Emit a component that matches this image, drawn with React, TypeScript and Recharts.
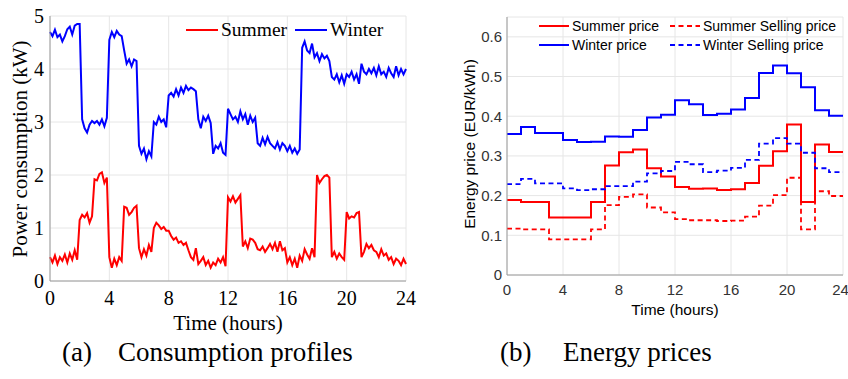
import React from 'react';
import { LineChart, Line, XAxis, YAxis, CartesianGrid, Legend } from 'recharts';

const SERIF = '"Liberation Serif", "Times New Roman", serif';
const SANS = '"Liberation Sans", Arial, sans-serif';

const RED = '#ff0000';
const BLUE = '#0000ff';
const GRID = '#e6e6e6';
const FRAME = '#9a9a9a';

// (a) consumption profiles, 10-minute samples from 0 h to 24 h (kW)
const SAMPLES_PER_HOUR = 6;
const summerLoad = [
  0.45, 0.35, 0.48, 0.32, 0.45, 0.38,
  0.50, 0.35, 0.52, 0.40, 0.58, 0.40,
  1.15, 1.25, 1.20, 1.28, 1.10, 1.22,
  1.92, 1.90, 2.02, 2.05, 1.85, 1.95,
  0.45, 0.25, 0.42, 0.30, 0.45, 0.38,
  1.40, 1.38, 1.25, 1.30, 1.38, 1.42,
  0.62, 0.45, 0.60, 0.48, 0.68, 0.55,
  1.00, 1.10, 1.05, 0.98, 1.02, 0.95,
  0.95, 0.85, 0.78, 0.82, 0.72, 0.75,
  0.68, 0.72, 0.58, 0.45, 0.40, 0.62,
  0.32, 0.38, 0.45, 0.30, 0.38, 0.25,
  0.35, 0.30, 0.42, 0.35, 0.45, 0.28,
  1.58, 1.50, 1.60, 1.48, 1.55, 1.62,
  0.65, 0.75, 0.62, 0.80, 0.78, 0.72,
  0.60, 0.58, 0.65, 0.55, 0.62, 0.70,
  0.60, 0.72, 0.55, 0.75, 0.58, 0.62,
  0.35, 0.45, 0.30, 0.42, 0.25, 0.48,
  0.38, 0.60, 0.50, 0.42, 0.62, 0.45,
  2.00, 1.85, 1.92, 1.98, 2.00, 1.95,
  0.45, 0.55, 0.42, 0.52, 0.45, 0.40,
  1.30, 1.18, 1.22, 1.20, 1.28, 1.30,
  0.45, 0.55, 0.70, 0.62, 0.68, 0.58,
  0.55, 0.45, 0.60, 0.48, 0.52, 0.40,
  0.45, 0.32, 0.42, 0.38, 0.30, 0.42,
  0.32,
];
const winterLoad = [
  4.70, 4.62, 4.74, 4.60, 4.65, 4.52,
  4.62, 4.75, 4.80, 4.65, 4.82, 4.85,
  4.85, 3.05, 2.88, 2.80, 2.95, 3.02,
  2.98, 3.02, 2.95, 3.05, 2.92, 3.08,
  4.55, 4.70, 4.60, 4.72, 4.65, 4.62,
  4.35, 4.10, 4.18, 4.05, 4.18, 4.15,
  2.55, 2.40, 2.50, 2.30, 2.45, 2.35,
  3.00, 2.95, 3.10, 3.00, 3.05, 2.90,
  3.50, 3.55, 3.48, 3.62, 3.50, 3.65,
  3.55, 3.68, 3.60, 3.65, 3.62, 3.58,
  3.05, 2.88, 3.10, 3.02, 3.12, 2.98,
  2.40, 2.55, 2.50, 2.60, 2.42, 2.38,
  3.25, 3.15, 3.05, 3.10, 3.00, 3.20,
  3.05, 3.15, 2.95, 3.12, 3.00, 3.08,
  2.60, 2.55, 2.70, 2.58, 2.72, 2.60,
  2.55, 2.50, 2.62, 2.48, 2.60, 2.55,
  2.45, 2.55, 2.42, 2.50, 2.40, 2.48,
  4.40, 4.52, 4.35, 4.30, 4.48, 4.22,
  4.30, 4.15, 4.28, 4.20, 4.25, 4.15,
  3.85, 3.80, 3.90, 3.75, 3.88, 3.72,
  3.90, 3.85, 3.95, 3.80, 3.90, 3.72,
  4.10, 3.95, 3.90, 4.00, 3.92, 4.02,
  3.88, 4.05, 3.90, 3.95, 3.85, 4.02,
  3.92, 3.85, 4.05, 3.88, 4.00, 3.90,
  4.00,
];
const timeTicks = [0, 4, 8, 12, 16, 20, 24];
const powerTicks = [0, 1, 2, 3, 4, 5];

// (b) hourly prices (EUR/kWh); the 24 h point repeats the last hour to close the step
const priceHours = [0, 1, 2, 3, 4, 5, 6, 7, 8, 9, 10, 11, 12, 13, 14, 15, 16, 17, 18, 19, 20, 21, 22, 23, 24];
const summerPrice = [0.189, 0.184, 0.184, 0.145, 0.145, 0.145, 0.184, 0.276, 0.309, 0.316, 0.269, 0.248, 0.222, 0.217, 0.218, 0.214, 0.216, 0.232, 0.275, 0.312, 0.379, 0.184, 0.329, 0.310];
const summerSelling = [0.117, 0.115, 0.115, 0.090, 0.090, 0.090, 0.115, 0.176, 0.197, 0.203, 0.170, 0.158, 0.141, 0.138, 0.138, 0.136, 0.137, 0.147, 0.175, 0.201, 0.245, 0.115, 0.211, 0.199];
const winterPrice = [0.355, 0.373, 0.358, 0.358, 0.340, 0.335, 0.336, 0.349, 0.348, 0.365, 0.397, 0.404, 0.440, 0.430, 0.403, 0.406, 0.417, 0.446, 0.509, 0.528, 0.508, 0.473, 0.415, 0.401];
const winterSelling = [0.229, 0.242, 0.231, 0.231, 0.218, 0.214, 0.216, 0.224, 0.224, 0.235, 0.256, 0.262, 0.285, 0.279, 0.259, 0.263, 0.270, 0.290, 0.331, 0.345, 0.331, 0.308, 0.269, 0.259];
const priceTicks = [0, 0.1, 0.2, 0.3, 0.4, 0.5, 0.6];

const consumptionData = summerLoad.map((v, i) => ({
  t: i / SAMPLES_PER_HOUR,
  summer: v,
  winter: winterLoad[i],
}));

const priceData = priceHours.map((h, i) => {
  const k = Math.min(i, summerPrice.length - 1);
  return {
    h,
    summerPrice: summerPrice[k],
    summerSelling: summerSelling[k],
    winterPrice: winterPrice[k],
    winterSelling: winterSelling[k],
  };
});

const axisTitle = (text: string, x: number, y: number, font: string, size: number, rotate = false) => ({
  content: () => (
    <text
      x={x}
      y={y}
      textAnchor="middle"
      dominantBaseline="central"
      transform={rotate ? `rotate(-90 ${x} ${y})` : undefined}
      style={{ fontFamily: font, fontSize: size, fill: '#000' }}
    >
      {text}
    </text>
  ),
});

const LegendItem = ({ x, y, color, dash, label, lineLen, font, size }: any) => (
  <div
    style={{
      position: 'absolute',
      left: x,
      top: y - 12,
      height: 24,
      display: 'flex',
      alignItems: 'center',
      whiteSpace: 'nowrap',
    }}
  >
    <svg width={lineLen} height={6} style={{ marginRight: 3 }}>
      <line x1={0} y1={3} x2={lineLen} y2={3} stroke={color} strokeWidth={2} strokeDasharray={dash} />
    </svg>
    <span style={{ fontFamily: font, fontSize: size, lineHeight: '24px', color: '#000' }}>{label}</span>
  </div>
);

const ConsumptionLegend = () => (
  <div style={{ position: 'relative', width: 420, height: 50 }}>
    <LegendItem x={186} y={30} color={RED} label="Summer" lineLen={32} font={SERIF} size={19.5} />
    <LegendItem x={295} y={30} color={BLUE} label="Winter" lineLen={32} font={SERIF} size={19.5} />
  </div>
);

const PriceLegend = () => (
  <div style={{ position: 'relative', width: 408, height: 60 }}>
    <LegendItem x={99} y={25.5} color={RED} label="Summer price" lineLen={30} font={SANS} size={14} />
    <LegendItem x={230} y={25.5} color={RED} dash="5 3.5" label="Summer Selling price" lineLen={30} font={SANS} size={14} />
    <LegendItem x={99} y={44.5} color={BLUE} label="Winter price" lineLen={30} font={SANS} size={14} />
    <LegendItem x={230} y={44.5} color={BLUE} dash="5 3.5" label="Winter Selling price" lineLen={30} font={SANS} size={14} />
  </div>
);

const ConsumptionChart = () => (
  <LineChart width={420} height={340} data={consumptionData} margin={{ top: 16, right: 14, bottom: 0, left: 0 }}>
    <CartesianGrid stroke={GRID} />
    <XAxis
      type="number"
      dataKey="t"
      domain={[0, 24]}
      ticks={timeTicks}
      height={59}
      tickSize={0}
      tickMargin={10}
      axisLine={{ stroke: FRAME }}
      tick={{ fontFamily: SERIF, fontSize: 20, fill: '#000' }}
      label={axisTitle('Time (hours)', 228, 323, SERIF, 21)}
    />
    <XAxis xAxisId="top" orientation="top" type="number" dataKey="t" domain={[0, 24]} ticks={timeTicks} height={0} tick={false} tickLine={false} axisLine={{ stroke: FRAME }} />
    <YAxis
      type="number"
      domain={[0, 5]}
      ticks={powerTicks}
      width={50}
      tickSize={0}
      tickMargin={6}
      axisLine={{ stroke: FRAME }}
      tick={{ fontFamily: SERIF, fontSize: 20, fill: '#000' }}
      label={axisTitle('Power consumption (kW)', 20, 149, SERIF, 21, true)}
    />
    <YAxis yAxisId="right" orientation="right" type="number" domain={[0, 5]} ticks={powerTicks} width={0} tick={false} tickLine={false} axisLine={{ stroke: FRAME }} />
    <Legend
      layout="horizontal"
      verticalAlign="middle"
      align="center"
      content={() => <ConsumptionLegend />}
      wrapperStyle={{ left: 0, top: 0, width: 420, height: 50 }}
    />
    <Line type="linear" dataKey="summer" name="Summer" stroke={RED} strokeWidth={2} dot={false} activeDot={false} isAnimationActive={false} />
    <Line type="linear" dataKey="winter" name="Winter" stroke={BLUE} strokeWidth={2} dot={false} activeDot={false} isAnimationActive={false} />
  </LineChart>
);

const PriceChart = () => (
  <LineChart width={408} height={340} data={priceData} margin={{ top: 17, right: 5, bottom: 0, left: 0 }}>
    <CartesianGrid stroke={GRID} />
    <XAxis
      type="number"
      dataKey="h"
      domain={[0, 24]}
      ticks={timeTicks}
      height={65}
      tickSize={0}
      tickMargin={9}
      axisLine={{ stroke: FRAME }}
      tick={{ fontFamily: SANS, fontSize: 15, fill: '#333' }}
      label={axisTitle('Time (hours)', 235, 309.5, SANS, 15.5)}
    />
    <XAxis xAxisId="top" orientation="top" type="number" dataKey="h" domain={[0, 24]} ticks={timeTicks} height={0} tick={false} tickLine={false} axisLine={{ stroke: FRAME }} />
    <YAxis
      type="number"
      domain={[0, 0.65]}
      ticks={priceTicks}
      width={67}
      tickSize={0}
      tickMargin={5}
      axisLine={{ stroke: FRAME }}
      tick={{ fontFamily: SANS, fontSize: 15, fill: '#333' }}
      label={axisTitle('Energy price (EUR/kWh)', 29, 144, SANS, 15.5, true)}
    />
    <YAxis yAxisId="right" orientation="right" type="number" domain={[0, 0.65]} ticks={priceTicks} width={0} tick={false} tickLine={false} axisLine={{ stroke: FRAME }} />
    <Legend
      layout="horizontal"
      verticalAlign="middle"
      align="center"
      content={() => <PriceLegend />}
      wrapperStyle={{ left: 0, top: 0, width: 408, height: 60 }}
    />
    <Line type="stepAfter" dataKey="summerPrice" stroke={RED} strokeWidth={2} dot={false} activeDot={false} isAnimationActive={false} />
    <Line type="stepAfter" dataKey="summerSelling" stroke={RED} strokeWidth={1.8} strokeDasharray="5 3.5" dot={false} activeDot={false} isAnimationActive={false} />
    <Line type="stepAfter" dataKey="winterPrice" stroke={BLUE} strokeWidth={2} dot={false} activeDot={false} isAnimationActive={false} />
    <Line type="stepAfter" dataKey="winterSelling" stroke={BLUE} strokeWidth={1.8} strokeDasharray="5 3.5" dot={false} activeDot={false} isAnimationActive={false} />
  </LineChart>
);

export default function App() {
  return (
    <div style={{ position: 'absolute', left: 0, top: 0, width: 848, height: 379, background: '#fff', overflow: 'hidden' }}>
      <div style={{ position: 'absolute', left: 0, top: 0 }}>
        <ConsumptionChart />
      </div>
      <div style={{ position: 'absolute', left: 440, top: 0 }}>
        <PriceChart />
      </div>
      <svg width={848} height={379} style={{ position: 'absolute', left: 0, top: 0, pointerEvents: 'none' }}>
        <g style={{ fontFamily: SERIF, fontSize: 27, fill: '#000' }}>
          <text x={62} y={361}>(a)</text>
          <text x={118} y={361}>Consumption profiles</text>
          <text x={500} y={361}>(b)</text>
          <text x={563} y={361}>Energy prices</text>
        </g>
      </svg>
    </div>
  );
}
